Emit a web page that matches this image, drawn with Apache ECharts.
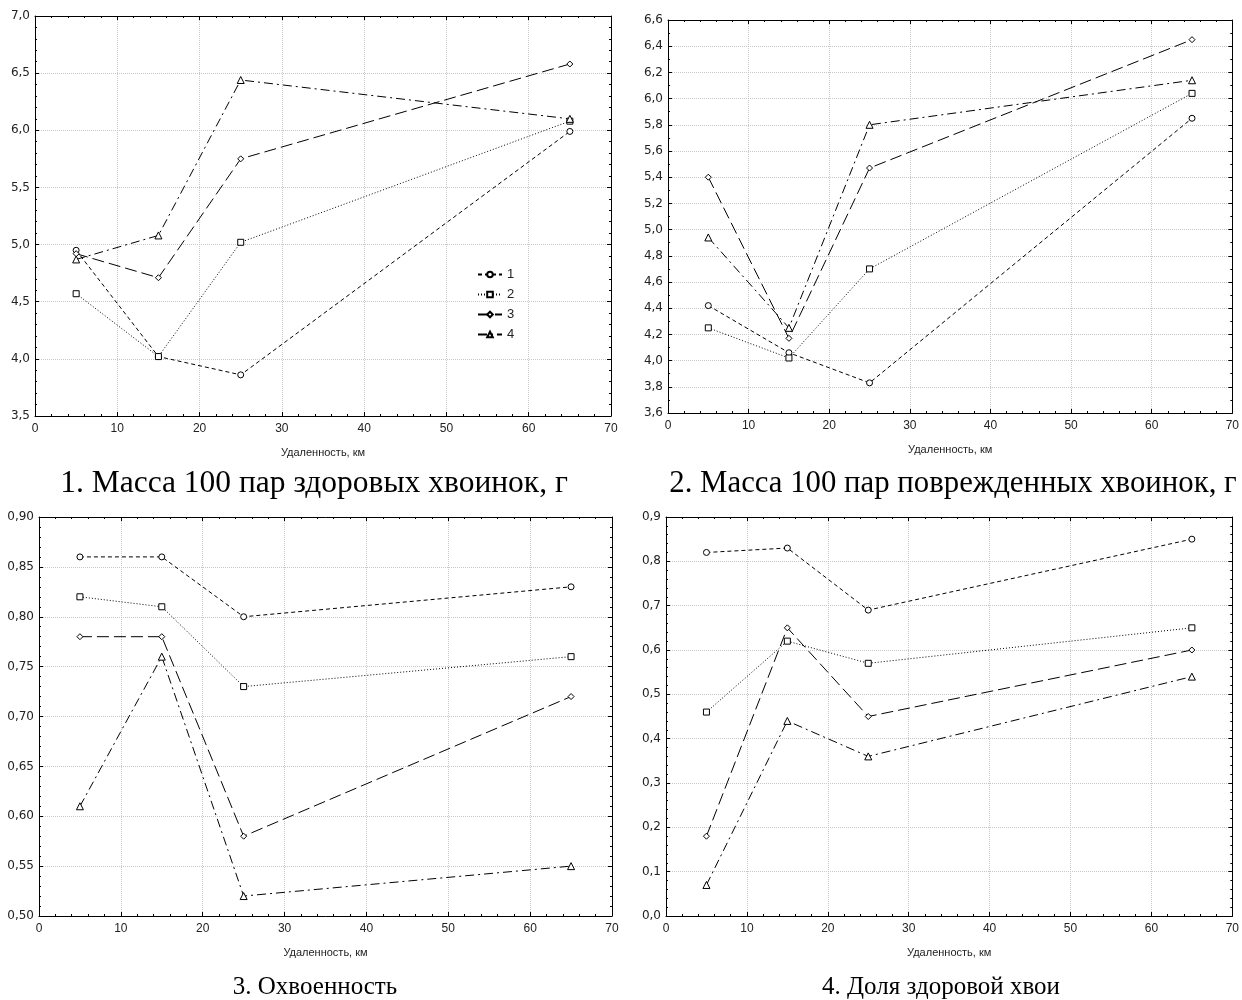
<!DOCTYPE html>
<html>
<head>
<meta charset="utf-8">
<script src="https://cdn.jsdelivr.net/npm/echarts@6/dist/echarts.min.js"></script>
<style>
  html, body { margin: 0; padding: 0; background: #fff; }
  #chart { width: 1242px; height: 1000px; }
</style>
</head>
<body>
<div id="chart"></div>
<script>
// distances of the sampling sites, km
const distances = [5, 15, 25, 65];
const seriesNames = ['1', '2', '3', '4'];

// 1. mass of 100 pairs of healthy needles
const massHealthy = [
  [4.95, 4.02, 3.86, 5.99],
  [4.57, 4.02, 5.02, 6.08],
  [4.92, 4.71, 5.75, 6.58],
  [4.87, 5.08, 6.44, 6.10]
];
// 2. mass of 100 pairs of damaged needles
const massDamaged = [
  [4.42, 4.06, 3.83, 5.85],
  [4.25, 4.02, 4.70, 6.04],
  [5.40, 4.17, 5.47, 6.45],
  [4.94, 4.25, 5.80, 6.14]
];
// 3. needle coverage
const needleCover = [
  [0.86, 0.86, 0.80, 0.83],
  [0.82, 0.81, 0.73, 0.76],
  [0.78, 0.78, 0.58, 0.72],
  [0.61, 0.76, 0.52, 0.55]
];
// 4. share of healthy needles
const healthyShare = [
  [0.82, 0.83, 0.69, 0.85],
  [0.46, 0.62, 0.57, 0.65],
  [0.18, 0.65, 0.45, 0.60],
  [0.07, 0.44, 0.36, 0.54]
];

const captions = [
  '1. Масса 100 пар здоровых хвоинок, г',
  '2. Масса 100 пар поврежденных хвоинок, г',
  '3. Охвоенность',
  '4. Доля здоровой хвои'
];
const xTitle = 'Удаленность, км';

// y axis ranges per panel
const yMins = [3.5, 3.6, 0.5, 0];
const yMaxs = [7.0, 6.6, 0.9, 0.9];
const yIntervals = [0.5, 0.2, 0.05, 0.1];
const yMinorSplits = [5, 2, 5, 5];
const yDigits = [1, 1, 2, 1];

const panelData = [massHealthy, massDamaged, needleCover, healthyShare];

// layout
const grids = [
  { left: 35, top: 16, width: 576, height: 400 },
  { left: 668, top: 20, width: 568, height: 393 },
  { left: 39, top: 517, width: 573, height: 399 },
  { left: 666, top: 517, width: 574, height: 399 }
];
const captionPos = [[309, 463], [948, 463], [310, 970], [936, 970]];
const captionSizes = [31.5, 30.8, 25, 25];

const symbols = ['circle', 'rect', 'diamond', 'triangle'];
const symbolSizes = [6, 6, 6, 7];
const dashes = [[4, 3], [1, 2], [12, 5], [9, 4, 2, 4]];

const yLabelFont = { fontFamily: 'DejaVu Sans', fontSize: 12, color: '#222' };
const xLabelFont = { fontFamily: 'Liberation Sans', fontSize: 12, color: '#222' };

const xAxis = [], yAxis = [], series = [], title = [];

grids.forEach((g, p) => {
  const tick = { show: true, inside: true, length: 4, lineStyle: { color: '#000' } };
  const minor = (n) => ({ show: true, splitNumber: n, length: 2, lineStyle: { color: '#000' } });
  // bottom x axis
  xAxis.push({
    type: 'value', gridIndex: p, min: 0, max: 70, interval: 10,
    axisLine: { show: true, onZero: false, lineStyle: { color: '#000', width: 1 } },
    axisTick: tick, minorTick: minor(5),
    axisLabel: Object.assign({ margin: 7 }, xLabelFont),
    splitLine: { show: true, lineStyle: { color: '#c8c8c8', type: [1, 1] } },
    name: xTitle, nameLocation: 'middle', nameGap: 31,
    nameTextStyle: { fontFamily: 'Liberation Sans', fontSize: 11, color: '#222' }
  });
  // top mirror for the frame
  xAxis.push({
    type: 'value', gridIndex: p, position: 'top', min: 0, max: 70, interval: 10,
    axisLine: { show: true, onZero: false, lineStyle: { color: '#000', width: 1 } },
    axisTick: tick, minorTick: minor(5),
    axisLabel: { show: false }, splitLine: { show: false }
  });
  const fmt = (v) => v.toFixed(yDigits[p]).replace('.', ',');
  yAxis.push({
    type: 'value', gridIndex: p, min: yMins[p], max: yMaxs[p], interval: yIntervals[p],
    axisLine: { show: true, onZero: false, lineStyle: { color: '#000', width: 1 } },
    axisTick: tick, minorTick: minor(yMinorSplits[p]),
    axisLabel: Object.assign({ margin: 5, formatter: fmt }, yLabelFont),
    splitLine: { show: true, lineStyle: { color: '#c8c8c8', type: [1, 1] } }
  });
  yAxis.push({
    type: 'value', gridIndex: p, position: 'right', min: yMins[p], max: yMaxs[p], interval: yIntervals[p],
    axisLine: { show: true, onZero: false, lineStyle: { color: '#000', width: 1 } },
    axisTick: tick, minorTick: minor(yMinorSplits[p]),
    axisLabel: { show: false }, splitLine: { show: false }
  });

  panelData[p].forEach((vals, s) => {
    series.push({
      type: 'line',
      name: seriesNames[s],
      xAxisIndex: p * 2,
      yAxisIndex: p * 2,
      data: distances.map((d, i) => [d, vals[i]]),
      symbol: symbols[s],
      symbolSize: symbolSizes[s],
      showAllSymbol: true,
      itemStyle: { color: '#fff', borderColor: '#000', borderWidth: 1 },
      lineStyle: { color: '#000', width: 1, type: dashes[s] },
      emphasis: { disabled: true },
      z: 3
    });
  });

  title.push({
    text: captions[p],
    left: captionPos[p][0], top: captionPos[p][1], textAlign: 'center',
    textStyle: { fontFamily: 'Liberation Serif', fontSize: captionSizes[p], fontWeight: 'normal', color: '#000' }
  });
});

const chart = echarts.init(document.getElementById('chart'), null, { renderer: 'canvas' });
chart.setOption({
  animation: false,
  backgroundColor: '#fff',
  title: title,
  grid: grids.map(g => Object.assign({ containLabel: false }, g)),
  legend: {
    data: seriesNames,
    orient: 'vertical',
    left: 472, top: 263,
    itemWidth: 24, itemHeight: 7, itemGap: 7,
    textStyle: { fontFamily: 'Liberation Sans', fontSize: 13, color: '#222' },
    selectedMode: false
  },
  xAxis: xAxis,
  yAxis: yAxis,
  series: series
});
</script>
</body>
</html>
